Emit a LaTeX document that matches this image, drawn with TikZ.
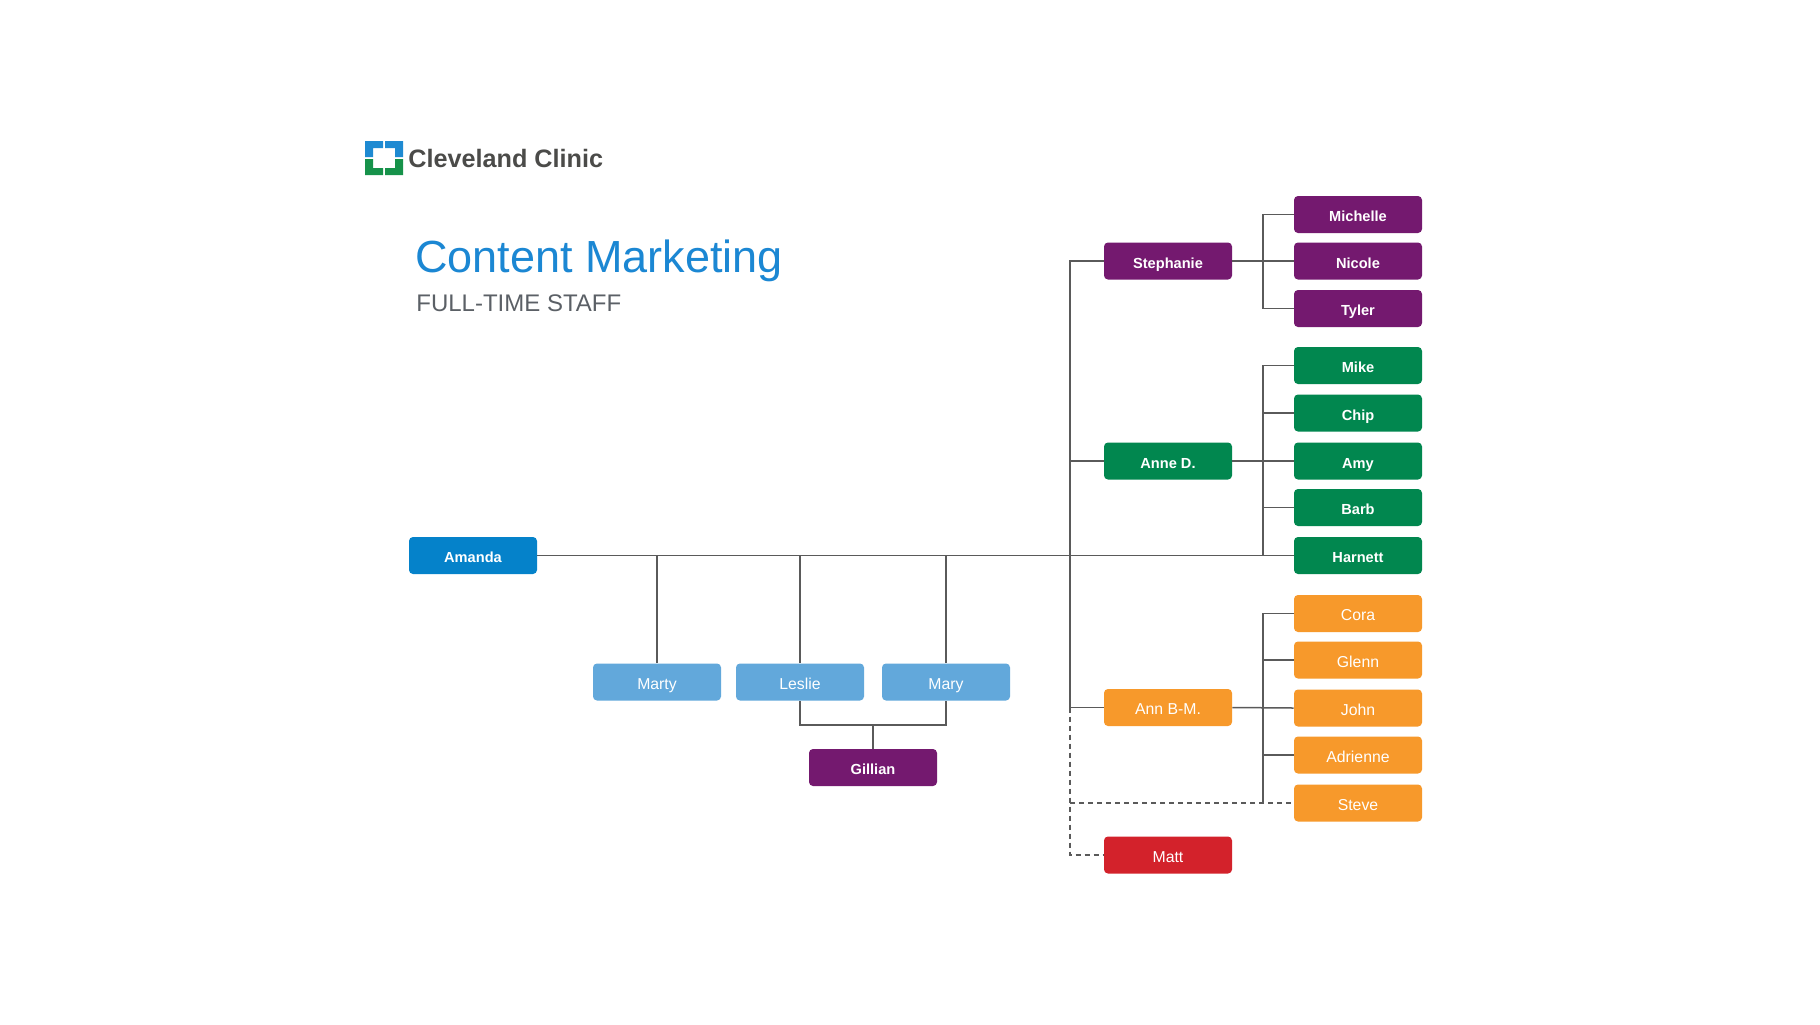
\documentclass[tikz,border=0pt]{standalone}
\usepackage{fontspec}
\setmainfont{Liberation Sans}
\usepackage{tikz}
\usetikzlibrary{positioning}
\definecolor{ccblue}{HTML}{0582CA}
\definecolor{cclight}{HTML}{62A8DB}
\definecolor{ccpurple}{HTML}{74196F}
\definecolor{ccgreen}{HTML}{01874F}
\definecolor{ccorange}{HTML}{F7992B}
\definecolor{ccred}{HTML}{D3222B}
\definecolor{ccline}{HTML}{5A5A5A}
\definecolor{cctitle}{HTML}{1B87D3}
\definecolor{ccgray}{HTML}{5B6066}
\definecolor{cclogo}{HTML}{4B4B49}
\definecolor{cclogoblue}{HTML}{1E8AD2}
\definecolor{cclogogreen}{HTML}{16924A}
\tikzset{
  every node/.style={
    font=\fontsize{7.3}{8}\selectfont\bfseries
  },
  staff/.style={
    shape=rectangle,
    rounded corners=2pt,
    minimum width=64pt,
    minimum height=18.5pt,
    inner sep=0pt,
    text height=0.72em,
    text depth=0pt,
    text=white
  },
  lightstaff/.style={
    staff,
    font=\fontsize{7.9}{8}\selectfont
  },
  head/.style={staff, fill=ccblue},
  editor/.style={lightstaff, fill=cclight},
  purplestaff/.style={staff, fill=ccpurple},
  greenstaff/.style={staff, fill=ccgreen},
  orangestaff/.style={lightstaff, fill=ccorange},
  redstaff/.style={lightstaff, fill=ccred},
  link/.style={draw=ccline, line width=0.75pt},
  dotted link/.style={link, dash pattern=on 2.5pt off 2pt}
}
\begin{document}
\begin{tikzpicture}[x=0.5pt, y=-0.5pt]
\useasboundingbox[fill=white] (0,0) rectangle (1820,1024);

% logo
\fill[cclogoblue] (365,141) -- (383,141) -- (383,148) -- (373,148) -- (373,157) -- (365,157) -- cycle;
\fill[cclogoblue] (403,141) -- (385,141) -- (385,148) -- (395,148) -- (395,157) -- (403,157) -- cycle;
\fill[cclogogreen] (365,175) -- (383,175) -- (383,168) -- (373,168) -- (373,159) -- (365,159) -- cycle;
\fill[cclogogreen] (403,175) -- (385,175) -- (385,168) -- (395,168) -- (395,159) -- (403,159) -- cycle;
\node[anchor=base west, inner sep=0pt, text=cclogo,
  font=\fontsize{12.6}{14}\selectfont\bfseries] (logo) at (408,167) {Cleveland Clinic};

% title
\node[anchor=base west, inner sep=0pt, text=cctitle,
  font=\fontsize{22.5}{26}\selectfont] (title) at (415,272) {Content Marketing};
\node[anchor=base west, inner sep=0pt, text=ccgray,
  font=\fontsize{12}{14}\selectfont] (subtitle) at (416,311) {FULL-TIME STAFF};

% head and editors
\node[head] (amanda) at (473,555.5) {Amanda};
\node[editor] (marty) at (657,682) {Marty};
\node[editor] (leslie) at (800,682) {Leslie};
\node[editor] (mary) at (946,682) {Mary};
\node[purplestaff] (gillian) at (873,767.5) {Gillian};

% managers
\node[purplestaff] (stephanie) at (1168,261) {Stephanie};
\node[greenstaff] (anned) at (1168,461) {Anne D.};
\node[orangestaff] (annbm) at (1168,707.5) {Ann B-M.};
\node[redstaff] (matt) at (1168,855) {Matt};

% teams
\foreach \nm/\txt/\yy in {michelle/Michelle/214.5, nicole/Nicole/261, tyler/Tyler/308.5}
  \node[purplestaff] (\nm) at (1358,\yy) {\txt};
\foreach \nm/\txt/\yy in {mike/Mike/365.5, chip/Chip/413, amy/Amy/461, barb/Barb/507.5, harnett/Harnett/555.5}
  \node[greenstaff] (\nm) at (1358,\yy) {\txt};
\foreach \nm/\txt/\yy in {cora/Cora/613.5, glenn/Glenn/660, john/John/708, adrienne/Adrienne/755, steve/Steve/803}
  \node[orangestaff] (\nm) at (1358,\yy) {\txt};

\coordinate (spine) at (1070,555.5);
\coordinate (forkx) at (1263,555.5);
\coordinate (gjoin) at (873,725);

% connectors
\draw[link] (amanda.east) -- (harnett.west);
\foreach \nm in {marty, leslie, mary}
  \draw[link] (\nm.north) -- (\nm.north |- amanda.east);
\draw[link] (leslie.south) |- (gjoin) -| (mary.south);
\draw[link] (gillian.north) -- (gjoin);

\draw[link] (stephanie.west) -- (stephanie.west -| spine) -- (annbm.west -| spine) -- (annbm.west);
\draw[link] (anned.west) -- (anned.west -| spine);
\draw[dotted link] (annbm.west -| spine) |- (matt.west);
\draw[dotted link] (steve.west -| spine) -- (steve.west);

\draw[link] (stephanie.east) -- (nicole.west);
\draw[link] (michelle.west) -- (michelle.west -| forkx) -- (tyler.west -| forkx) -- (tyler.west);

\draw[link] (anned.east) -- (amy.west);
\draw[link] (mike.west) -- (mike.west -| forkx) -- (harnett.west -| forkx);
\foreach \nm in {chip, barb}
  \draw[link] (\nm.west) -- (\nm.west -| forkx);

\draw[link] (annbm.east) -- (john.west);
\draw[link] (cora.west) -- (cora.west -| forkx) -- (steve.west -| forkx);
\foreach \nm in {glenn, adrienne}
  \draw[link] (\nm.west) -- (\nm.west -| forkx);

\end{tikzpicture}
\end{document}
